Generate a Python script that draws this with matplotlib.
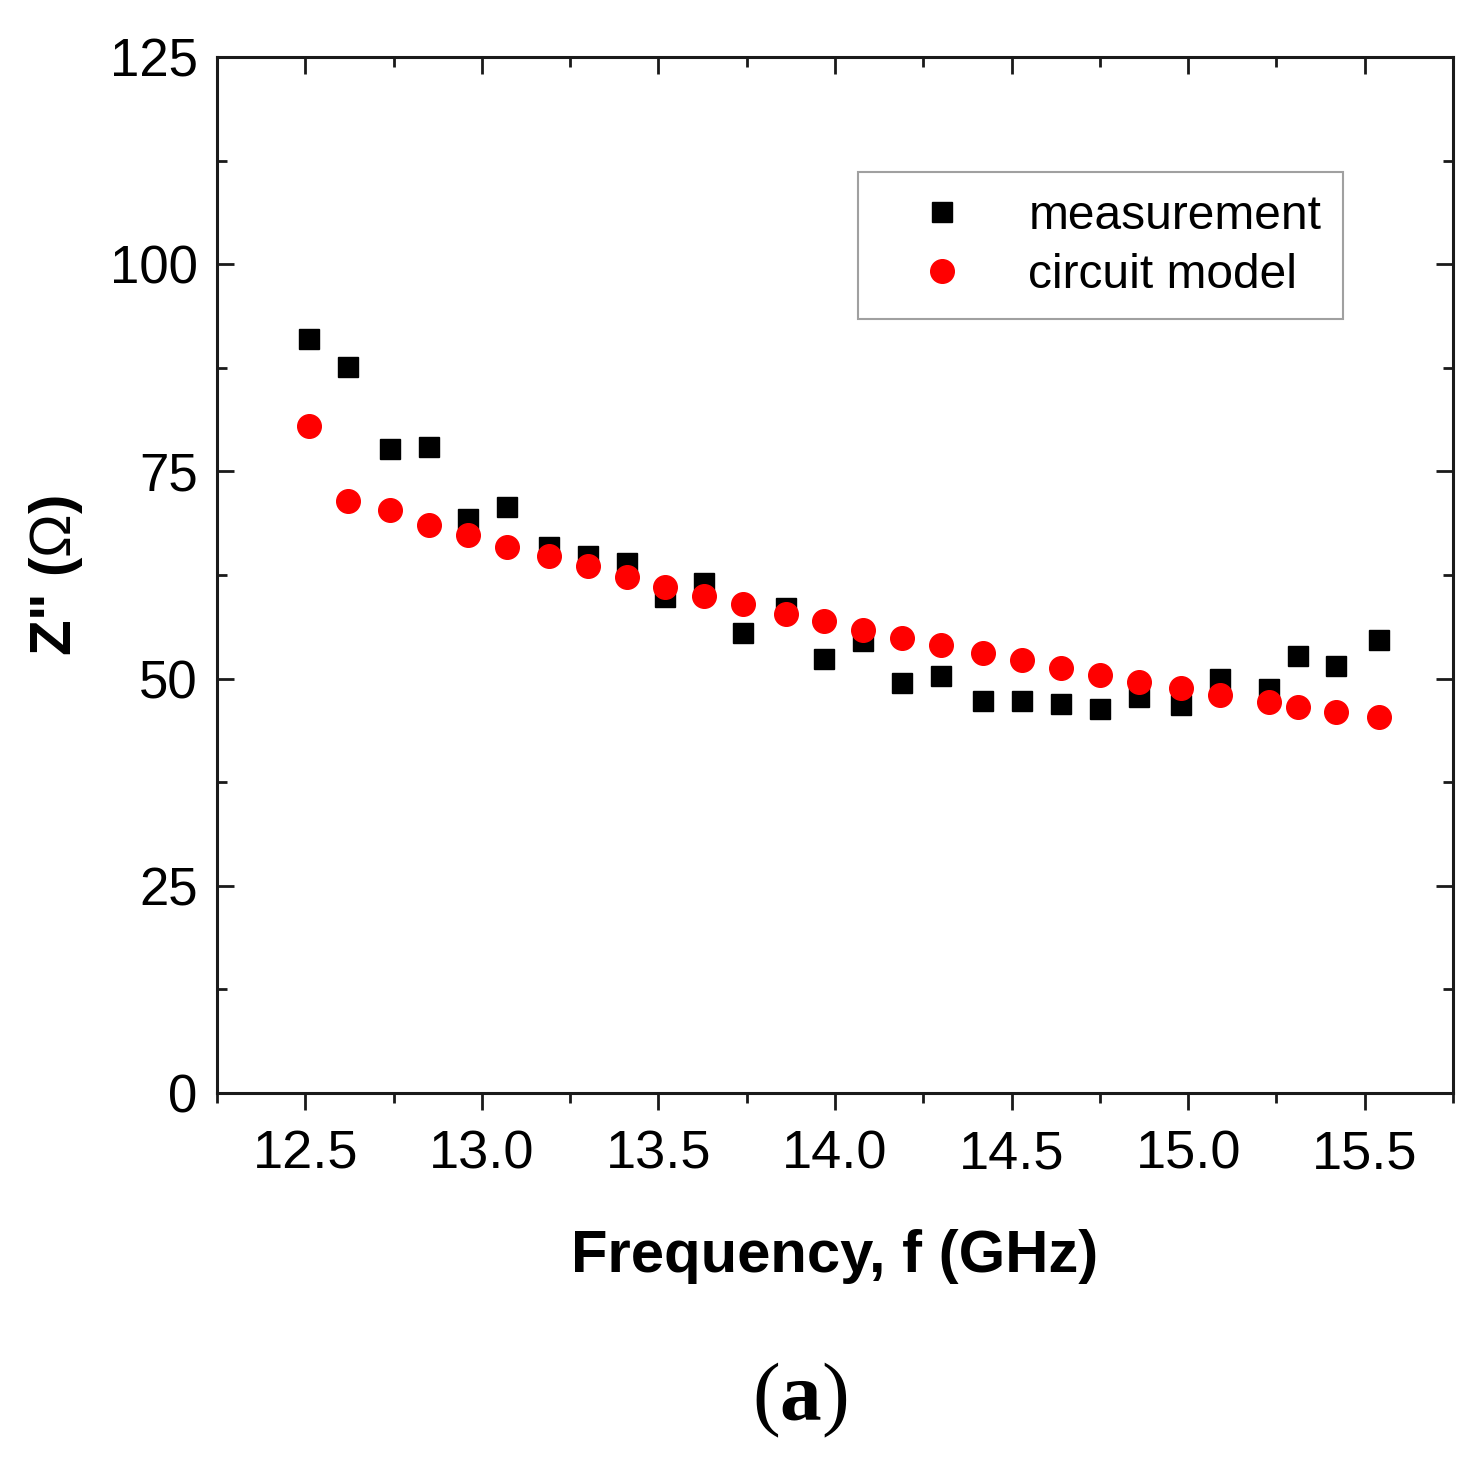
import matplotlib
matplotlib.use("Agg")
import matplotlib.pyplot as plt
from matplotlib.ticker import MultipleLocator

plt.rcParams['font.family'] = ['Liberation Sans', 'DejaVu Sans']
plt.rcParams['mathtext.fontset'] = 'custom'
plt.rcParams['mathtext.rm'] = 'Liberation Sans'
plt.rcParams['mathtext.bf'] = 'Liberation Serif:bold'

# frequency points (GHz)
freq = [12.51, 12.62, 12.74, 12.85, 12.96, 13.07, 13.19, 13.30, 13.41, 13.52,
        13.63, 13.74, 13.86, 13.97, 14.08, 14.19, 14.30, 14.42, 14.53, 14.64,
        14.75, 14.86, 14.98, 15.09, 15.23, 15.31, 15.42, 15.54]

meas = [91.0, 87.6, 77.7, 78.0, 69.3, 70.7, 65.9, 64.8, 63.9, 59.8,
        61.5, 55.5, 58.5, 52.4, 54.5, 49.5, 50.3, 47.3, 47.3, 46.9,
        46.3, 47.8, 46.8, 49.9, 48.7, 52.7, 51.5, 54.6]

model = [80.5, 71.4, 70.3, 68.5, 67.3, 65.9, 64.8, 63.6, 62.3, 61.1,
         60.0, 59.0, 57.8, 56.9, 55.9, 54.9, 54.0, 53.1, 52.2, 51.3,
         50.4, 49.6, 48.9, 48.0, 47.2, 46.6, 46.0, 45.4]

fig = plt.figure(figsize=(14.84, 14.68), dpi=100)
ax = fig.add_axes([217/1484, 1 - 1093/1468, (1453-217)/1484, (1093-57)/1468])

ax.plot(freq, meas, 's', color='black', markersize=15, label='measurement', zorder=3)
ax.plot(freq, model, 'o', color='#ff0000', markersize=17, label='circuit model', zorder=4)

ax.set_xlim(12.25, 15.75)
ax.set_ylim(0, 125)
ax.xaxis.set_major_locator(MultipleLocator(0.5))
ax.xaxis.set_minor_locator(MultipleLocator(0.25))
ax.yaxis.set_major_locator(MultipleLocator(25))
ax.yaxis.set_minor_locator(MultipleLocator(12.5))
ax.xaxis.set_major_formatter(matplotlib.ticker.FormatStrFormatter('%.1f'))

for s in ax.spines.values():
    s.set_linewidth(2.2)
    s.set_color('#1a1a1a')

ax.tick_params(axis='x', which='both', direction='out', bottom=True, top=False,
               width=2, color='#1a1a1a', labelsize=39, pad=14)
ax.tick_params(axis='x', which='major', length=12)
ax.tick_params(axis='x', which='minor', length=7)
ax.tick_params(axis='y', which='both', direction='in', left=True, right=True,
               width=2, color='#1a1a1a', labelsize=38, pad=14)
ax.tick_params(axis='y', which='major', length=12)
ax.tick_params(axis='y', which='minor', length=7)

# top ticks pointing inward
top = ax.secondary_xaxis('top')
top.set_xticks([12.5, 13.0, 13.5, 14.0, 14.5, 15.0, 15.5])
top.xaxis.set_minor_locator(MultipleLocator(0.25))
top.tick_params(axis='x', which='both', direction='in', width=2, color='#1a1a1a', labeltop=False)
top.tick_params(axis='x', which='major', length=12)
top.tick_params(axis='x', which='minor', length=7)
top.spines['top'].set_visible(False)

ax.set_xlabel('Frequency, f (GHz)', fontsize=43, fontweight='bold', labelpad=36)
ax.set_ylabel(r'Z" ($\mathrm{Ω}$)', fontsize=42, fontweight='bold', labelpad=18)

leg = ax.legend(loc='upper right', bbox_to_anchor=(0.911, 0.889), borderaxespad=0,
                fontsize=34.5, frameon=True, fancybox=False, handletextpad=0.5,
                labelspacing=0.3, borderpad=0.45, handlelength=2.6, markerscale=1.0)
leg.get_frame().set_edgecolor('#888888')
leg.get_frame().set_linewidth(1.5)

fig.text(800/1484, 1 - 1400/1468, r'($\mathbf{a}$)', fontsize=60, ha='center', va='center',
         family='Liberation Serif')

fig.savefig('out.png', dpi=100)
